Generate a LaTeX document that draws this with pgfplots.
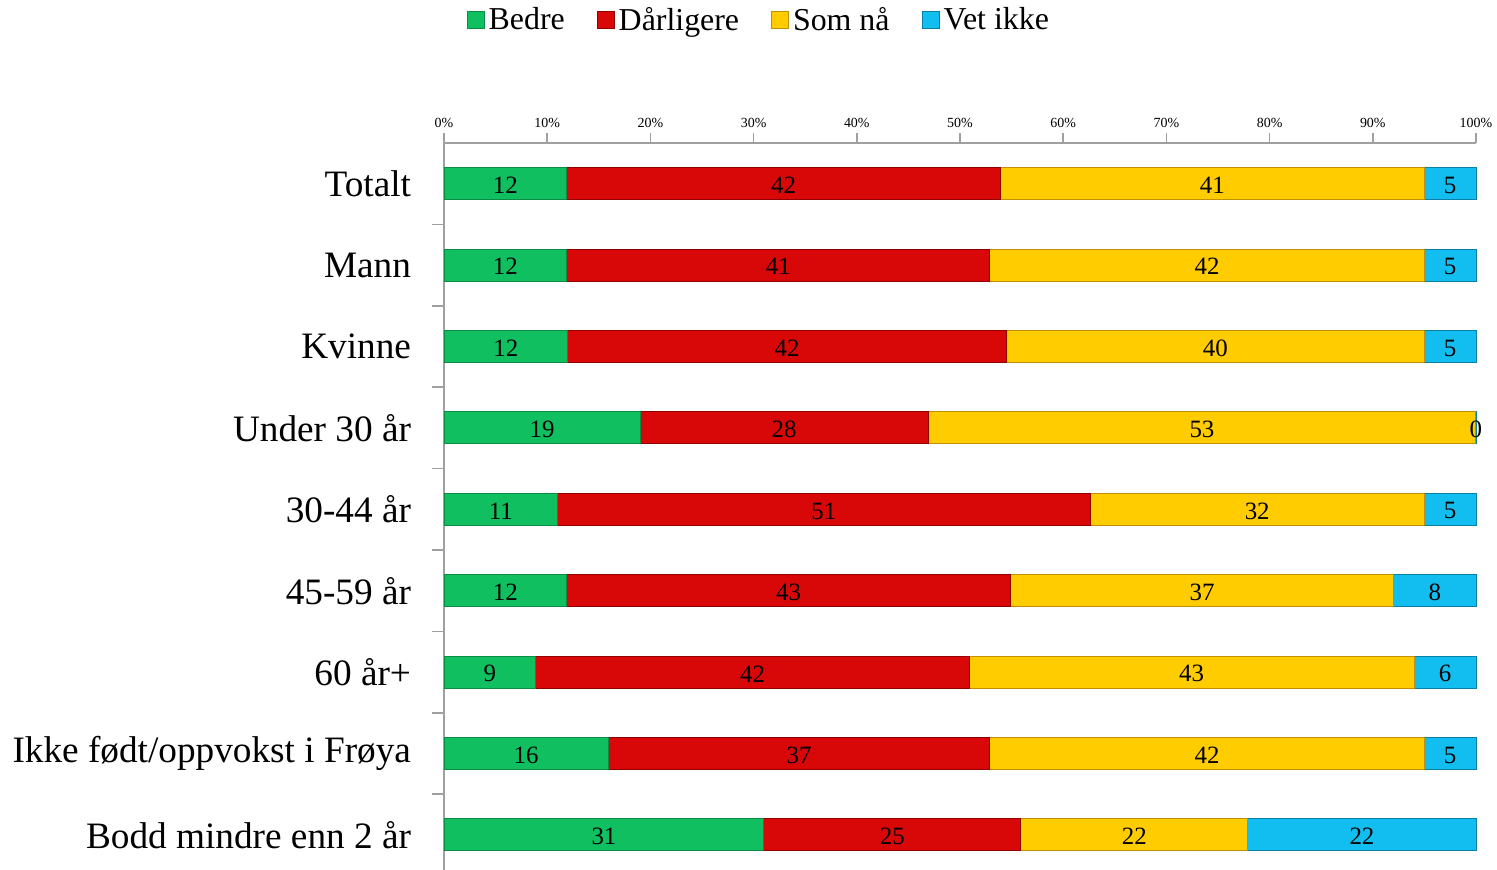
\documentclass[border=0pt]{standalone}
\usepackage{pgfplots}
\usepackage{pgfplotstable}
\pgfplotsset{compat=1.18}
\usepackage{fontspec}
\setmainfont{Liberation Serif}

\definecolor{cG}{HTML}{10C060}
\definecolor{cGd}{HTML}{0A8C45}
\definecolor{cR}{HTML}{D80808}
\definecolor{cRd}{HTML}{900000}
\definecolor{cY}{HTML}{FFCC00}
\definecolor{cYd}{HTML}{C09000}
\definecolor{cB}{HTML}{12BDEF}
\definecolor{cBd}{HTML}{0880A8}
\definecolor{axgray}{HTML}{A0A0A0}

% y: 8 = Totalt (top) ... 0 = Bodd mindre enn 2 aar (bottom)
\pgfplotstableread{
y x lab
8 11.9 12
7 11.9 12
6 12.0 12
5 19.0 19
4 11.0 11
3 11.9 12
2 8.9 9
1 15.9 16
0 31.0 31
}\bedre
\pgfplotstableread{
y x lab
8 42.0 42
7 41.0 41
6 42.5 42
5 27.9 28
4 51.6 51
3 43.0 43
2 42.0 42
1 37.0 37
0 24.9 25
}\darligere
\pgfplotstableread{
y x lab
8 41.1 41
7 42.1 42
6 40.5 40
5 53.09 53
4 32.4 32
3 37.1 37
2 43.1 43
1 42.1 42
0 22.0 22
}\somna
\pgfplotstableread{
y x lab
8 5.0 5
7 5.0 5
6 5.0 5
5 0.01 0
4 5.0 5
3 8.0 8
2 6.0 6
1 5.0 5
0 22.1 22
}\vetikke

\begin{document}
\begin{tikzpicture}
\path[use as bounding box] (0,0) rectangle (748.5bp,435bp);
\begin{axis}[
  at={(222bp,0bp)}, anchor=south west,
  scale only axis,
  width=516bp, height=363.5bp,
  xbar stacked,
  bar width=16bp,
  xmin=0, xmax=100,
  ymin=-0.43, ymax=8.5,
  axis x line*=top,
  axis y line*=left,
  axis line style={axgray, line width=1bp},
  every tick/.style={axgray, line width=0.8bp},
  xtick={0,10,...,100},
  xticklabel={\pgfmathprintnumber{\tick}\%},
  xticklabel style={font=\fontsize{7}{8}\selectfont, yshift=-1bp},
  /pgf/number format/assume math mode=true,
  tick align=outside,
  major tick length=5bp,
  minor tick length=6bp,
  ytick={0,...,8},
  yticklabels={Bodd mindre enn 2 år, Ikke født/oppvokst i Frøya, 60 år+, 45-59 år, 30-44 år, Under 30 år, Kvinne, Mann, Totalt},
  major y tick style={draw=none},
  minor ytick={0.5,1.5,...,7.5},
  yticklabel style={font=\fontsize{18.7}{21}\selectfont, xshift=-8bp},
  point meta=explicit,
  nodes near coords,
  nodes near coords style={font=\fontsize{12.5}{14}\selectfont, black, anchor=center, yshift=-0.8bp},
  legend columns=4,
  legend style={at={(0.306,1.169)}, anchor=center, draw=none, fill=none,
    font=\fontsize{16}{18}\selectfont,
    /tikz/every even column/.append style={column sep=14bp}},
  legend image code/.code={\draw[#1,line width=0.4bp] (0bp,-4.3bp) rectangle (8.6bp,4.3bp);},
  legend cell align=left,
  clip=false,
]
\addplot[draw=cGd, line width=0.5bp, fill=cG] table[x=x,y=y,meta=lab] {\bedre};
\addplot[draw=cRd, line width=0.5bp, fill=cR] table[x=x,y=y,meta=lab] {\darligere};
\addplot[draw=cYd, line width=0.5bp, fill=cY] table[x=x,y=y,meta=lab] {\somna};
\addplot[draw=cBd, line width=0.5bp, fill=cB] table[x=x,y=y,meta=lab] {\vetikke};
\legend{Bedre, Dårligere, Som nå, Vet ikke}
\end{axis}
\end{tikzpicture}
\end{document}
